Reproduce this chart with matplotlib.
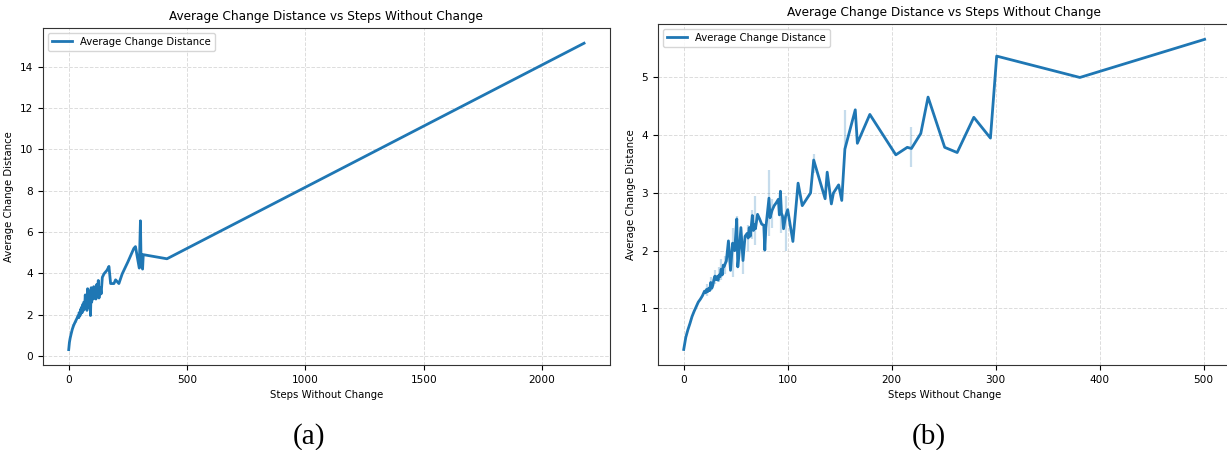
import numpy as np
import matplotlib
matplotlib.use("Agg")
from matplotlib import pyplot as plt

# run (a): long run, steps up to ~2200
a_steps = [0, 3, 6, 10, 15, 20, 25, 30, 35, 40, 43, 45, 48, 50, 52, 55, 57, 60, 62, 65,
           67, 70, 72, 75, 77, 80, 82, 85, 87, 90, 92, 95, 97, 100, 103, 106, 108, 112,
           115, 118, 121, 125, 128, 131, 134, 137, 142, 149, 162, 170, 177, 191, 198,
           212, 226, 250, 275, 282, 298, 303, 306, 309, 312, 315, 415, 2177]
a_dist = [0.30, 0.65, 0.85, 1.05, 1.28, 1.45, 1.58, 1.70, 1.82, 1.95, 1.85, 2.10, 1.95,
          2.25, 2.05, 2.35, 2.10, 2.50, 2.20, 2.60, 2.30, 2.95, 2.40, 2.85, 2.20, 3.25,
          2.50, 3.00, 2.35, 3.15, 1.95, 3.30, 2.60, 3.05, 2.75, 3.35, 2.80, 3.10, 2.75,
          3.45, 3.00, 3.65, 2.80, 3.20, 3.30, 3.00, 3.80, 3.97, 4.15, 4.33, 3.50, 3.50,
          3.68, 3.50, 3.97, 4.55, 5.20, 5.29, 4.25, 6.54, 4.30, 4.90, 4.20, 4.90, 4.70,
          15.14]
# spread where several episodes share a step count
a_err = {20: (1.35, 1.55), 30: (1.60, 1.80), 40: (1.85, 2.10), 50: (2.10, 2.40),
         60: (2.35, 2.65)}

# run (b): steps up to 500
b_steps = [0, 2, 4, 6, 8, 10, 12, 14, 16, 18, 20, 21, 22, 23, 24, 25, 26, 27, 28, 29,
           30, 31, 32, 33, 34, 35, 36, 37, 38, 39, 40, 41, 43, 45, 47, 48, 49, 51, 52,
           53, 55, 57, 59, 61, 62, 63, 64, 66, 67, 68, 69, 71, 73, 75, 77, 78, 79, 82,
           83, 85, 87, 89, 91, 92, 93, 94, 95, 96, 98, 100, 105, 110, 114, 122, 125,
           136, 138, 142, 144, 149, 152, 155, 165, 167, 179, 204, 215, 219, 228, 235,
           251, 263, 279, 295, 301, 381, 501]
b_dist = [0.29, 0.50, 0.63, 0.74, 0.86, 0.95, 1.03, 1.11, 1.16, 1.22, 1.30, 1.27, 1.33,
          1.29, 1.35, 1.31, 1.45, 1.35, 1.40, 1.50, 1.56, 1.50, 1.55, 1.49, 1.58, 1.55,
          1.68, 1.58, 1.75, 1.73, 1.78, 1.82, 2.17, 1.66, 2.13, 2.10, 2.00, 2.55, 1.72,
          1.90, 2.40, 1.83, 2.25, 2.30, 2.22, 2.40, 2.25, 2.61, 2.35, 2.45, 2.38, 2.63,
          2.55, 2.46, 2.44, 2.01, 2.40, 2.91, 2.57, 2.70, 2.78, 2.83, 2.89, 2.62, 3.03,
          2.65, 2.60, 2.38, 2.60, 2.71, 2.16, 3.17, 2.78, 3.00, 3.57, 2.90, 3.36, 2.81,
          3.00, 3.14, 2.87, 3.76, 4.44, 3.86, 4.36, 3.66, 3.79, 3.77, 4.03, 4.66, 3.79,
          3.70, 4.31, 3.95, 5.37, 5.00, 5.66]
b_err = {22: (1.22, 1.42), 26: (1.30, 1.55), 30: (1.42, 1.66), 34: (1.45, 1.72),
         36: (1.50, 1.85), 40: (1.60, 1.90), 47: (1.55, 2.40), 51: (2.00, 2.60),
         57: (1.60, 2.05), 62: (2.00, 2.45), 66: (2.20, 2.70), 69: (2.10, 2.95),
         82: (2.25, 3.40), 85: (2.40, 2.90), 94: (2.30, 2.80), 98: (2.00, 2.95),
         125: (3.35, 3.68), 155: (3.76, 4.43), 219: (3.45, 4.14)}

color = "#1f77b4"


def draw(ax, steps, dist, err):
    # confidence spread as thin light bars at the shared step counts
    ex = list(err.keys())
    ax.vlines(ex, [err[k][0] for k in ex], [err[k][1] for k in ex],
              color=color, alpha=0.25, lw=1.6)
    ax.plot(steps, dist, color=color, lw=2, label="Average Change Distance")
    ax.set_title("Average Change Distance vs Steps Without Change", fontsize=8.7)
    ax.set_xlabel("Steps Without Change", fontsize=7.3)
    ax.set_ylabel("Average Change Distance", fontsize=7.3)
    ax.tick_params(labelsize=7.6)
    ax.grid(True, linestyle="--", color="#bbbbbb", alpha=0.5, lw=0.7)
    ax.legend(loc="upper left", fontsize=7.3)
    for sp in ax.spines.values():
        sp.set_color("#333333")


fig = plt.figure(figsize=(12.27, 4.5), dpi=100)
ax1 = fig.add_axes([0.035, 0.189, 0.462, 0.749])
ax2 = fig.add_axes([0.536, 0.189, 0.467, 0.758])

draw(ax1, a_steps, a_dist, a_err)
draw(ax2, b_steps, b_dist, b_err)

fig.text(0.252, 0.015, "(a)", family="Liberation Serif", fontsize=21, ha="center")
fig.text(0.757, 0.015, "(b)", family="Liberation Serif", fontsize=21, ha="center")

fig.savefig("out.png", dpi=100)
